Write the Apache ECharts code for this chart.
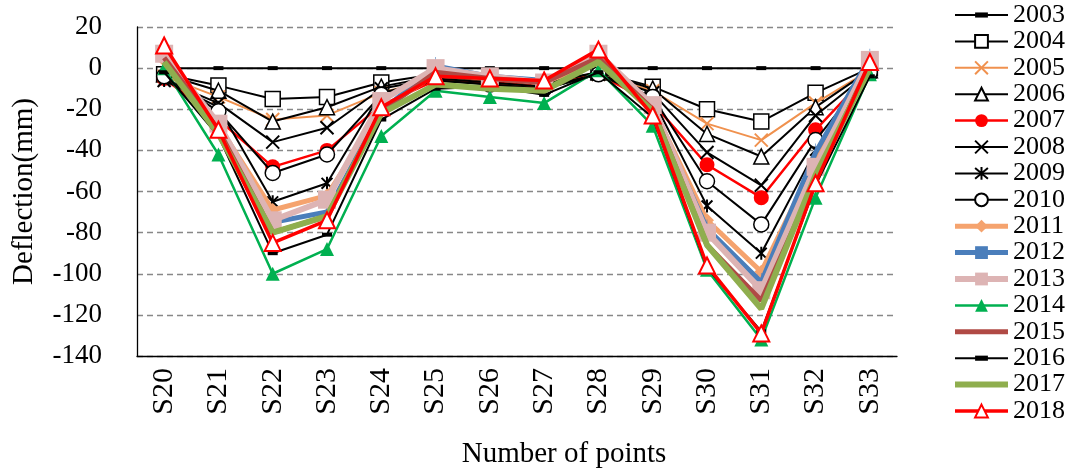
<!DOCTYPE html>
<html>
<head>
<meta charset="utf-8">
<script src="https://cdn.jsdelivr.net/npm/echarts@6/dist/echarts.min.js"></script>
<style>
html, body { margin: 0; padding: 0; background: #fff; }
#chartDeflection { width: 1072px; height: 474px; }
</style>
</head>
<body>
<div id="chartDeflection"></div>
<script>
// measuring points and years
var points = ['S20', 'S21', 'S22', 'S23', 'S24', 'S25', 'S26', 'S27', 'S28', 'S29', 'S30', 'S31', 'S32', 'S33'];
var years = ['2003', '2004', '2005', '2006', '2007', '2008', '2009', '2010', '2011', '2012', '2013', '2014', '2015', '2016', '2017', '2018'];

// deflection values (mm)
var d2003 = [0, 0, 0, 0, 0, 0, 0, 0, 0, 0, 0, 0, 0, 0];
var d2004 = [-3, -8.5, -15, -14, -7, -3, -5, -7, -2, -9, -20, -26, -12, 0];
var d2005 = [-4, -14, -25, -23, -12, -5, -6, -8, -3, -11, -27, -35, -17, -1];
var d2006 = [-3, -11, -26, -19, -9, -4, -6, -8, -2, -10, -32, -43, -19, -1];
var d2007 = [-5, -25, -48, -40, -18, -6, -7, -9, -3, -17, -47, -63, -30, -2];
var d2008 = [-6, -17, -36, -29, -10, -5, -7, -9, -3, -12, -41, -57, -23, -2];
var d2009 = [-6, -19, -65, -56, -12, -6, -8, -10, -3, -15, -67, -90, -40, -3];
var d2010 = [-4, -21, -51, -42, -13, -6, -8, -10, -3, -14, -55, -76, -35, -2];
var d2011 = [4, -28, -69, -62, -20, -3, -5, -7, 3, -19, -74, -99, -45, 2];
var d2012 = [3, -29, -75, -70, -21, 1, -4, -6, 5, -20, -78, -104, -41, 5];
var d2013 = [7, -27, -74, -64, -16, 0, -4, -7, 7, -18, -80, -108, -48, 4];
var d2014 = [0, -42, -100, -88, -33, -11, -14, -17, -1, -28, -98, -132, -63, -3];
var d2015 = [5, -30, -80, -72, -21, -2, -5, -7, 5, -20, -86, -113, -54, 2];
var d2016 = [-2, -33, -90, -81, -25, -10, -9, -13, -2, -24, -97, -128, -57, -4];
var d2017 = [3, -32, -80, -72, -22, -8, -10, -11, 3, -21, -86, -117, -52, 0];
var d2018 = [11, -30, -85, -74, -19, -4, -5, -6, 9, -23, -96, -129, -56, 3];

var values = [d2003, d2004, d2005, d2006, d2007, d2008, d2009, d2010, d2011, d2012, d2013, d2014, d2015, d2016, d2017, d2018];

var CROSS = 'path://M0,0L10,10M10,0L0,10';
var STAR = 'path://M0,0L10,10M10,0L0,10M5,-1L5,11';
var BAR = 'path://M0,0L2,0L2,10L0,10Z';
var DASH = 'path://M0,0M10,10M0,3L10,3L10,7L0,7Z';

// line look of each year
var looks = [
	{ c: '#000000', w: 2, sym: DASH, size: 10, fill: '#000000' },
	{ c: '#000000', w: 2, sym: 'rect', size: 15, fill: '#ffffff', bw: 1.5 },
	{ c: '#F0914E', w: 2, sym: CROSS, size: 13, fill: 'none', bw: 2 },
	{ c: '#000000', w: 2, sym: 'triangle', size: 15, fill: '#ffffff', bw: 1.5 },
	{ c: '#FF0000', w: 2.5, sym: 'circle', size: 15, fill: '#FF0000' },
	{ c: '#000000', w: 2, sym: CROSS, size: 13, fill: 'none', bw: 2 },
	{ c: '#000000', w: 2, sym: STAR, size: 13, fill: 'none', bw: 2 },
	{ c: '#000000', w: 2, sym: 'circle', size: 15, fill: '#ffffff', bw: 1.5 },
	{ c: '#F5A36E', w: 5, sym: 'diamond', size: 14, fill: '#F5A36E' },
	{ c: '#4A7EBB', w: 5, sym: BAR, size: [3, 18], fill: '#4A7EBB' },
	{ c: '#DDB4B4', w: 6, sym: 'rect', size: 18, fill: '#DDB4B4' },
	{ c: '#00B050', w: 2.5, sym: 'triangle', size: 14, fill: '#00B050' },
	{ c: '#B04A45', w: 5, sym: 'none', size: 0, fill: '#B04A45' },
	{ c: '#000000', w: 2, sym: DASH, size: 10, fill: '#000000' },
	{ c: '#8FAE4E', w: 6, sym: 'none', size: 0, fill: '#8FAE4E' },
	{ c: '#FF0000', w: 3.5, sym: 'triangle', size: 16, fill: '#ffffff', bw: 2 }
];

var series = [];
var legendData = [];
for (var i = 0; i < years.length; i++) {
	var lk = looks[i];
	var noMark = lk.sym === 'none';
	series.push({
		name: years[i],
		type: 'line',
		data: values[i],
		symbol: noMark ? 'circle' : lk.sym,
		symbolSize: lk.size,
		symbolKeepAspect: true,
		showSymbol: !noMark,
		color: lk.c,
		lineStyle: { color: lk.c, width: lk.w },
		itemStyle: {
			color: lk.fill,
			borderColor: lk.c,
			borderWidth: lk.bw || 0,
			opacity: noMark ? 0 : 1
		},
		emphasis: { disabled: true },
		animation: false,
		z: 2 + i
	});
	legendData.push({
		name: years[i],
		lineStyle: { color: lk.c, width: lk.w, opacity: 1 },
		itemStyle: { opacity: noMark ? 0 : 1 }
	});
}

var font = 'Liberation Serif';

var chart_deflection = echarts.init(document.getElementById('chartDeflection'));
chart_deflection.setOption({
	textStyle: { fontFamily: font },
	grid: { left: 137, right: 175, top: 27, bottom: 118, outerBoundsMode: 'none', containLabel: false },
	legend: {
		orient: 'vertical',
		left: 952,
		top: 2,
		padding: 0,
		itemWidth: 53,
		itemHeight: 16,
		itemGap: 0.4,
		formatter: '{y|{name}}',
		textStyle: {
			fontFamily: font, fontSize: 26, color: '#000', lineHeight: 26,
			rich: { y: { fontFamily: font, fontSize: 26, color: '#000', lineHeight: 26 } }
		},
		data: legendData
	},
	xAxis: {
		type: 'category',
		data: points,
		boundaryGap: true,
		name: 'Number of points',
		nameLocation: 'middle',
		nameGap: 84,
		nameTextStyle: { fontFamily: font, fontSize: 29, color: '#000', padding: [0, 0, 0, 94] },
		axisLine: { onZero: false, lineStyle: { color: '#000', width: 1.3 } },
		axisTick: { inside: true, length: 9, lineStyle: { color: '#000' } },
		axisLabel: { rotate: 90, margin: 12, fontFamily: font, fontSize: 30, color: '#000' },
		splitLine: { show: false }
	},
	yAxis: {
		type: 'value',
		min: -140,
		max: 20,
		interval: 20,
		name: 'Deflection(mm)',
		nameLocation: 'middle',
		nameGap: 98,
		nameTextStyle: { fontFamily: font, fontSize: 29, color: '#000' },
		axisLine: { show: true, lineStyle: { color: '#000', width: 1.3 } },
		axisTick: { show: false },
		axisLabel: { margin: 35, fontFamily: font, fontSize: 27, color: '#000' },
		splitLine: { show: true, lineStyle: { color: '#888', type: [6, 4], width: 1.3 } }
	},
	series: series
});
</script>
</body>
</html>
